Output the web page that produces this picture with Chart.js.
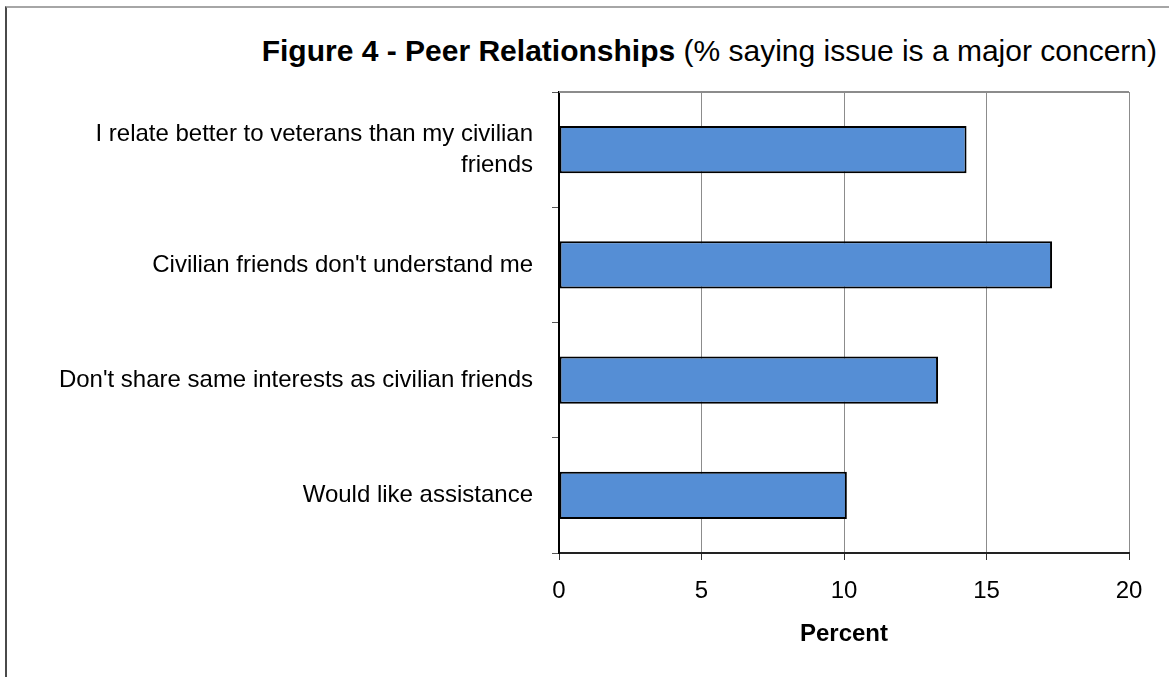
<!DOCTYPE html>
<html>
<head>
<meta charset="utf-8">
<script src="https://cdn.jsdelivr.net/npm/chart.js@4.4.1/dist/chart.umd.min.js"></script>
<style>
  html, body { margin: 0; padding: 0; background: #fff; }
  #wrap { position: relative; width: 1169px; height: 677px; overflow: hidden; }
  #frame { position: absolute; left: 5px; top: 6px; width: 1300px; height: 800px;
           border-top: 2px solid #a6a6a6; border-left: 2px solid #4a4a4a; }
  #title { position: absolute; right: 12px; top: 36px; font-family: 'Liberation Sans', Arial, sans-serif;
           font-size: 30px; line-height: 30px; color: #000; white-space: nowrap; }
  #chart { position: absolute; left: 0; top: 0; }
</style>
</head>
<body>
<div id="wrap">
  <div id="frame"></div>
  <div id="title"><b>Figure 4 - Peer Relationships</b> (% saying issue is a major concern)</div>
  <canvas id="chart" width="1169" height="677"></canvas>
</div>
<script>
// categories (top to bottom) and values
const categories = [
  ['I relate better to veterans than my civilian', 'friends'],
  "Civilian friends don't understand me",
  "Don't share same interests as civilian friends",
  'Would like assistance',
];
const percentValues = [14.3, 17.3, 13.3, 10.1];
const xMin = 0;
const xMax = 20;
const xStep = 5;

Chart.defaults.font.family = "'Liberation Sans', Arial, sans-serif";
Chart.defaults.color = '#000';

// thin gray line along the top of the plot area, like the excel frame
const plotTopLine = {
  id: 'plotTopLine',
  beforeDatasetsDraw(chart) {
    const { ctx, chartArea } = chart;
    ctx.save();
    ctx.strokeStyle = '#8c8c8c';
    ctx.lineWidth = 2;
    ctx.beginPath();
    ctx.moveTo(chartArea.left, chartArea.top);
    ctx.lineTo(chartArea.right, chartArea.top);
    ctx.stroke();
    ctx.restore();
  }
};

const peer_chart_data = {
  labels: categories,
  datasets: [{
    label: 'Percent',
    data: percentValues,
    backgroundColor: '#558ed5',
    borderColor: '#000',
    borderWidth: 2,
    borderSkipped: false,
    categoryPercentage: 1.0,
    barPercentage: 0.41,
  }]
};

const peer_chart_config = {
  type: 'bar',
  data: peer_chart_data,
  plugins: [plotTopLine],
  options: {
    indexAxis: 'y',
    responsive: false,
    animation: false,
    layout: { padding: { top: 92, right: 40, left: 0, bottom: 0 } },
    plugins: {
      legend: { display: false },
      title: { display: false },
      tooltip: { enabled: false },
    },
    scales: {
      x: {
        min: xMin,
        max: xMax,
        afterFit(scale) { scale.height = 124; },
        ticks: { stepSize: xStep, padding: 17, font: { size: 24 } },
        grid: { color: '#8c8c8c', lineWidth: 1, tickLength: 7, tickColor: '#333', tickWidth: 1 },
        border: { color: '#222', width: 2 },
        title: {
          display: true,
          text: 'Percent',
          font: { size: 24, weight: 'bold', lineHeight: 1.2 },
          padding: { top: 0, bottom: 28 },
        },
      },
      y: {
        afterFit(scale) { scale.width = 559; },
        ticks: { padding: 19, font: { size: 24, lineHeight: 1.3 } },
        grid: { offset: true, drawOnChartArea: false, tickLength: 7, tickColor: '#555', tickWidth: 1 },
        border: { color: '#000', width: 2 },
      }
    }
  }
};

const peer_chart = new Chart(document.getElementById('chart'), peer_chart_config);
</script>
</body>
</html>
